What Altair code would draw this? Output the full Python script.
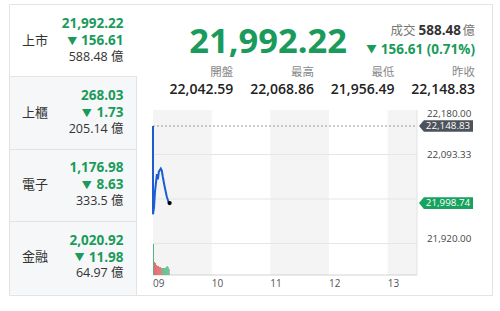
import altair as alt
import pandas as pd

# ---------------- data ----------------
board_names = ["上市", "上櫃", "電子", "金融"]
board_prices = ["21,992.22", "268.03", "1,176.98", "2,020.92"]
board_changes = ["156.61", "1.73", "8.63", "11.98"]
board_volumes = ["588.48", "205.14", "333.5", "64.97"]

index_price = "21,992.22"
index_volume = "588.48"
index_change = "156.61 (0.71%)"
stat_labels = ["開盤", "最高", "最低", "昨收"]
stat_values = ["22,042.59", "22,068.86", "21,956.49", "22,148.83"]

prev_close = 22148.83
last_price = 21998.74
last_minute = 17

# minutes after 09:00
line_minutes = [0, 0, 1, 2, 4, 5, 6, 8, 9, 10, 12, 14, 16, 17]
line_prices = [22148.83, 21977.0, 21990.0, 22020.0, 22055.0, 22045.0, 22060.0,
               22066.0, 22062.0, 22050.0, 22030.0, 22012.0, 22000.0, 21998.74]

vol_minutes = list(range(17))
vol_values = [31, 13, 12, 10, 9, 9, 8, 8, 7, 7, 7, 7, 7, 8, 9, 8, 6]
vol_dirs = ["down", "up", "up", "up", "up", "up", "up", "up", "up",
            "down", "down", "down", "down", "down", "down", "down", "down"]

hour_minutes = [0, 60, 120, 180, 240]
hour_labels = ["09", "10", "11", "12", "13"]
band_starts = [0, 120, 240]
band_ends = [60, 180, 270]

tick_prices = [22180.0, 22093.33, 21920.0]
tick_labels = ["22,180.00", "22,093.33", "21,920.00"]
tick_baselines = ["top", "middle", "bottom"]
grid_prices = [22093.33, 22006.67, 21920.0]

price_domain = [21858.7, 22180.0]
time_domain = [0, 270]
vol_domain = [0, 165]

# ---------------- styles ----------------
GREEN = "#1a9b5b"
TAG_GREEN = "#17a25f"
TAG_GRAY = "#4d535b"
RED_BAR = "#e2686a"
GREEN_BAR = "#4fb47f"
NUM = "Open Sans, Noto Sans CJK TC"
CJK = "Noto Sans CJK TC, Open Sans"
BORDER = "#e3e3e3"

one = pd.DataFrame({"k": [0]})


def txt(value, x, y, size, color, weight="normal", align="left",
        baseline="middle", font=NUM, dy=0):
    return alt.Chart(pd.DataFrame({"label": [value]})).mark_text(
        align=align, baseline=baseline, fontSize=size, color=color,
        fontWeight=weight, font=font, dy=dy
    ).encode(x=alt.value(x), y=alt.value(y), text="label:N")


def box(x0, x1, y0, y1, fill, stroke=None):
    kw = dict(fill=fill)
    if stroke:
        kw.update(stroke=stroke, strokeWidth=1)
    return alt.Chart(one).mark_rect(**kw).encode(
        x=alt.value(x0), x2=alt.value(x1), y=alt.value(y0), y2=alt.value(y1))


def hline(x0, x1, y, color):
    return alt.Chart(one).mark_rule(color=color, strokeWidth=1).encode(
        x=alt.value(x0), x2=alt.value(x1), y=alt.value(y))


def vline(x, y0, y1, color):
    return alt.Chart(one).mark_rule(color=color, strokeWidth=1).encode(
        x=alt.value(x), y=alt.value(y0), y2=alt.value(y1))


layers = []

# frame and left panel
layers.append(box(0, 500, 0, 311, "white"))
layers.append(box(10, 136.5, 76, 294.5, "#f6f7f9"))
layers.append(box(9.5, 492.5, 4.5, 295.5, "transparent", BORDER))
layers.append(hline(10, 136.5, 76.5, BORDER))
layers.append(hline(10, 136.5, 149.5, BORDER))
layers.append(hline(10, 136.5, 221.5, BORDER))
layers.append(vline(136.5, 76.5, 295, BORDER))

tri_x = [72.3, 86.8, 86.8, 79.5]
for i, (nm, pr, ch, vo) in enumerate(zip(board_names, board_prices,
                                          board_changes, board_volumes)):
    base = 24 + i * 72.2
    layers.append(txt(nm, 22, base + 16.7, 13, "#333333", font=CJK))
    layers.append(txt(pr, 123.5, base, 13.5, GREEN, "bold", "right"))
    layers.append(txt("▼", tri_x[i], base + 17.5, 10, GREEN, align="center", font=CJK))
    layers.append(txt(ch, 123.5, base + 17, 13.5, GREEN, "bold", "right"))
    layers.append(txt(vo + " 億", 123.5, base + 32.7, 12.5, "#333333", align="right"))

# header
layers.append(txt(index_price, 347, 52.5, 34.5, GREEN, "bold", "right",
                  baseline="alphabetic"))
layers.append(txt("成交", 415.5, 31, 12.5, "#777777", align="right", font=CJK))
layers.append(txt(index_volume, 461, 31, 13.5, "#333333", "bold", "right"))
layers.append(txt("億", 475, 31, 12.5, "#777777", align="right", font=CJK))
layers.append(txt("▼", 371.5, 49.5, 10.5, GREEN, align="center", font=CJK))
layers.append(txt(index_change, 475, 49.5, 13.5, GREEN, "bold", "right"))
stat_x = [233.3, 313.9, 394.5, 475]
for lab, val, sx in zip(stat_labels, stat_values, stat_x):
    layers.append(txt(lab, sx, 73, 11.5, "#888888", align="right", font=CJK))
    layers.append(txt(val, sx, 90, 14, "#222222", 600, "right"))

# chart
xs = alt.Scale(domain=time_domain, range=[153, 417])
ys = alt.Scale(domain=price_domain, range=[275, 110])
vs = alt.Scale(domain=vol_domain, range=[275, 110])

bands_df = pd.DataFrame({"start": band_starts, "end": band_ends})
layers.append(alt.Chart(bands_df).mark_rect(fill="#f4f4f4").encode(
    x=alt.X("start:Q", scale=xs, axis=None), x2="end:Q",
    y=alt.value(110), y2=alt.value(275)))

grid_df = pd.DataFrame({"price": grid_prices, "t0": time_domain[0], "t1": time_domain[1]})
layers.append(alt.Chart(grid_df).mark_rule(color="#e6e6e6").encode(
    x=alt.X("t0:Q", scale=xs, axis=None), x2="t1:Q",
    y=alt.Y("price:Q", scale=ys, axis=None)))

layers.append(hline(153, 417, 275, "#d2d2d2"))
layers.append(vline(417, 110, 275, "#e2e2e2"))

pc_df = pd.DataFrame({"price": [prev_close], "t0": time_domain[0], "t1": time_domain[1]})
layers.append(alt.Chart(pc_df).mark_rule(color="#9a9a9a", strokeDash=[2, 2]).encode(
    x=alt.X("t0:Q", scale=xs, axis=None), x2="t1:Q",
    y=alt.Y("price:Q", scale=ys, axis=None)))

vol_df = pd.DataFrame({"t": vol_minutes, "v": vol_values, "dir": vol_dirs})
vol_df["t_end"] = vol_df["t"] + 1
vol_df["zero"] = 0
layers.append(alt.Chart(vol_df).mark_rect().encode(
    x=alt.X("t:Q", scale=xs, axis=None), x2="t_end:Q",
    y=alt.Y("v:Q", scale=vs, axis=None), y2="zero:Q",
    color=alt.Color("dir:N", scale=alt.Scale(domain=["up", "down"],
                                             range=[RED_BAR, GREEN_BAR]), legend=None)))

line_df = pd.DataFrame({"t": line_minutes, "p": line_prices,
                        "i": list(range(len(line_minutes)))})
layers.append(alt.Chart(line_df).mark_line(color="#1b5dd3", strokeWidth=2).encode(
    x=alt.X("t:Q", scale=xs, axis=None),
    y=alt.Y("p:Q", scale=ys, axis=None),
    order="i:Q"))

dot_df = pd.DataFrame({"t": [last_minute], "p": [last_price]})
layers.append(alt.Chart(dot_df).mark_circle(size=18, color="black", opacity=1).encode(
    x=alt.X("t:Q", scale=xs, axis=None), y=alt.Y("p:Q", scale=ys, axis=None)))

# x labels
hour_df = pd.DataFrame({"t": hour_minutes, "lab": hour_labels})
layers.append(alt.Chart(hour_df).mark_text(align="left", baseline="middle",
                                           fontSize=10, color="#555555", font=NUM).encode(
    x=alt.X("t:Q", scale=xs, axis=None), y=alt.value(283.5), text="lab:N"))

# y labels
tick_df = pd.DataFrame({"p": tick_prices, "lab": tick_labels, "b": tick_baselines})
for b in tick_baselines:
    layers.append(alt.Chart(tick_df).transform_filter(alt.datum.b == b).mark_text(
        align="left", baseline=b, fontSize=9.8, color="#444444", font=NUM,
        dy=-1 if b == "top" else 0).encode(
        x=alt.value(427), y=alt.Y("p:Q", scale=ys, axis=None), text="lab:N"))

# price tags
TAG = "M-1,0L-0.82,-0.215L1,-0.215L1,0.215L-0.82,0.215Z"
tag_df = pd.DataFrame({
    "p": [prev_close, last_price],
    "lab": [f"{prev_close:,.2f}", f"{last_price:,.2f}"],
    "kind": ["prev", "last"],
})
layers.append(alt.Chart(tag_df).mark_point(shape=TAG, size=54 * 54, filled=True,
                                           opacity=1, strokeWidth=0).encode(
    x=alt.value(446), y=alt.Y("p:Q", scale=ys, axis=None),
    fill=alt.Fill("kind:N", scale=alt.Scale(domain=["prev", "last"],
                                            range=[TAG_GRAY, TAG_GREEN]), legend=None)))
layers.append(alt.Chart(tag_df).mark_text(align="center", baseline="middle",
                                          fontSize=9.8, color="white", font=NUM).encode(
    x=alt.value(448), y=alt.Y("p:Q", scale=ys, axis=None), text="lab:N"))

chart = alt.layer(*layers).resolve_scale(y="independent").properties(
    width=500, height=311, padding=0,
    autosize=alt.AutoSizeParams(type="none"),
).configure_view(stroke=None).configure(background="white")

chart.save("out.html", embed_options={"renderer": "svg", "actions": False})
